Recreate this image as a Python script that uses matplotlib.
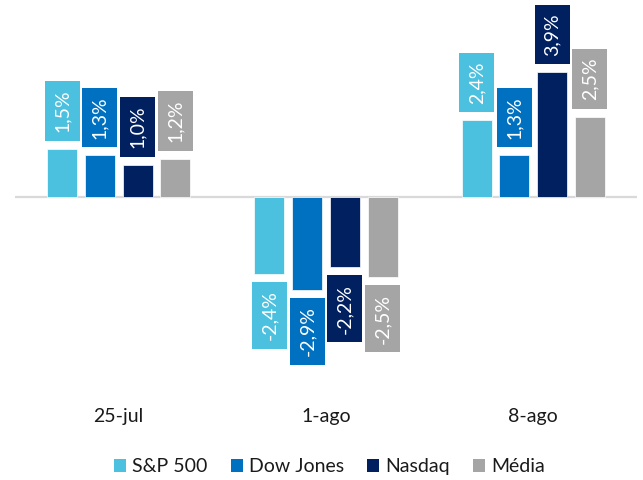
import matplotlib
matplotlib.use("Agg")
import matplotlib.pyplot as plt
from matplotlib.patches import Rectangle, Patch
import numpy as np

# Weekly index returns (%)
dates = ["25-jul", "1-ago", "8-ago"]
series = ["S&P 500", "Dow Jones", "Nasdaq", "Média"]
sp500 = [1.5, -2.4, 2.4]
dow_jones = [1.3, -2.9, 1.3]
nasdaq = [1.0, -2.2, 3.9]
media = [1.2, -2.5, 2.5]
values = [sp500, dow_jones, nasdaq, media]
colors = ["#4BC0DF", "#0070C0", "#002060", "#A5A5A5"]

plt.rcParams["font.family"] = ["Lato", "DejaVu Sans"]

W, H = 643, 480
fig = plt.figure(figsize=(W / 100, H / 100), dpi=100)
ax = fig.add_axes([15 / W, 80 / H, 622 / W, 400 / H])

px_unit = 32.0          # pixels per percentage point
zero_px = 197.0         # zero line distance from top
ax.set_xlim(-0.5, len(dates) - 0.5)
ax.set_ylim(-(400 - zero_px) / px_unit, zero_px / px_unit)

x = np.arange(len(dates))
step = 37.7 / (622 / 3)
width = 30 / (622 / 3)

ax.axhline(0, color="#D9D9D9", lw=1.6, zorder=1)

bars = []
for i, (vals, c) in enumerate(zip(values, colors)):
    xs = x + (i - 1.5) * step
    ax.bar(xs, vals, width=width, color=c, edgecolor="white", linewidth=0.5, zorder=2)
    bars.append((xs, vals, c))

ax.set_xticks(x)
ax.set_xticklabels(dates, fontsize=14, color="#1a1a1a")
ax.tick_params(axis="x", length=0, pad=6)
ax.set_yticks([])
for s in ax.spines.values():
    s.set_visible(False)

# Value labels in coloured boxes above/below each bar
fig.canvas.draw()
renderer = fig.canvas.get_renderer()
gap, pad, box_w = 8.0, 8.5, 35.0
inv = ax.transData.inverted()
for xs, vals, c in bars:
    for xc, v in zip(xs, vals):
        sign = 1 if v >= 0 else -1
        dx, dy = ax.transData.transform((xc, v))
        ty = dy + sign * (gap + pad)
        tx_data, ty_data = inv.transform((dx, ty))
        label = f"{v:.1f}".replace(".", ",") + "%"
        t = ax.text(tx_data, ty_data, label, rotation=90, ha="center",
                    va="bottom" if sign > 0 else "top", color="white",
                    fontsize=14, zorder=4)
        bb = t.get_window_extent(renderer)
        y0, y1 = bb.y0 - pad, bb.y1 + pad
        (bx0, by0) = inv.transform((dx - box_w / 2, y0))
        (bx1, by1) = inv.transform((dx + box_w / 2, y1))
        ax.add_patch(Rectangle((bx0, by0), bx1 - bx0, by1 - by0, facecolor=c,
                               edgecolor="none", zorder=3, clip_on=False))

handles = [Patch(facecolor=c, edgecolor="none") for c in colors]
fig.legend(handles, series, loc="center", bbox_to_anchor=(0.5125, 1 - 466.7 / H),
           ncol=4, frameon=False, fontsize=14, handlelength=0.62, handleheight=0.62,
           handletextpad=0.3, columnspacing=1.2, labelcolor="#1a1a1a")

fig.savefig("out.png", dpi=100, facecolor="white")
